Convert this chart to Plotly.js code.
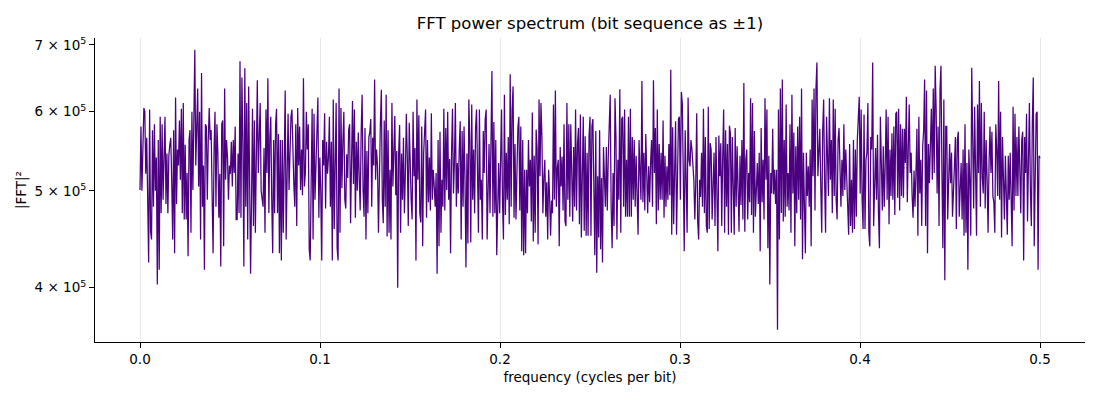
<!DOCTYPE html>
<html>
<head>
<meta charset="utf-8">
<script src="https://cdn.plot.ly/plotly-3.0.1.min.js"></script>
<style>
  html, body { margin: 0; padding: 0; background: #fff; }
  #plotly-fft { width: 1100px; height: 400px; }
</style>
</head>
<body>
<div id="plotly-fft"></div>
<script type="text/javascript">

    /* * Data - |FFT|^2, in units of 1e3 * */
    var power_k = [
        // 0.000 - 0.053
        501, 580, 500, 560, 605, 600, 520, 565, 475, 424,
        603, 455, 447, 575, 482, 583, 500, 540, 403, 562,
        417, 593, 475, 583, 490, 542, 593, 485, 545, 475,
        542, 556, 565, 510, 447, 575, 433, 620, 485, 550,
        530, 588, 513, 604, 475, 612, 468, 556, 468, 521,
        430, 562, 575, 454, 600, 501, 605, 692, 530, 610,
        633, 505, 600, 447, 656, 482, 530, 417, 583, 580,
        490, 562, 605, 562, 575, 495, 433, 550, 600, 482,
        583, 545, 470, 520, 420, 583, 588, 440, 633, 513,
        562, 540, 490, 530, 520, 560, 505,
        // 0.053 - 0.109
        562, 521, 580, 468, 468, 545, 475, 674, 470, 649,
        560, 420, 663, 482, 612, 447, 636, 490, 413, 490,
        604, 461, 588, 454, 520, 645, 521, 565, 612, 500,
        490, 482, 552, 454, 603, 521, 648, 475, 565, 593,
        490, 433, 562, 475, 583, 604, 475, 570, 433, 562,
        426, 562, 454, 585, 630, 447, 550, 597, 501, 570,
        593, 603, 529, 507, 482, 583, 461, 605, 530, 580,
        501, 550, 495, 648, 505, 521, 600, 550, 583, 437,
        426, 562, 604, 447, 597, 490, 538, 583, 620, 470,
        540, 500, 426, 562, 530, 598, 480, 560, 520, 540,
        // 0.109 - 0.164
        593, 482, 560, 426, 617, 458, 558, 612, 438, 426,
        633, 454, 605, 503, 560, 600, 490, 480, 544, 515,
        575, 583, 464, 548, 615, 508, 603, 470, 560, 500,
        572, 515, 478, 572, 624, 501, 471, 578, 447, 548,
        475, 566, 572, 590, 482, 565, 530, 646, 513, 550,
        530, 454, 544, 585, 631, 490, 464, 588, 482, 624,
        450, 575, 454, 525, 447, 612, 505, 560, 594, 495,
        548, 400, 546, 582, 454, 545, 490, 565, 475, 521,
        597, 540, 461, 585, 521, 490, 468, 600, 517, 552,
        426, 617, 513, 595, 475, 465, 580, 440, 545, 570,
        // 0.164 - 0.219
        603, 470, 562, 487, 540, 478, 598, 490, 525, 505,
        482, 521, 413, 562, 440, 573, 454, 513, 482, 604,
        478, 578, 501, 600, 490, 538, 433, 545, 604, 497,
        533, 612, 482, 533, 497, 550, 587, 447, 574, 482,
        580, 513, 419, 545, 443, 617, 562, 444, 610, 490,
        550, 475, 578, 603, 497, 454, 603, 490, 513, 447,
        574, 521, 590, 603, 447, 497, 557, 475, 603, 659,
        471, 586, 475, 562, 431, 513, 533, 475, 557, 603,
        487, 447, 624, 473, 546, 490, 566, 463, 654, 482,
        603, 636, 470, 557, 468, 550, 578, 593, 478, 580,
        435, 562, 431, 525,
        // 0.219 - 0.275
        433, 525, 475, 562, 505, 537, 466, 599, 445, 542,
        454, 576, 550, 442, 617, 517, 612, 566, 475, 516,
        537, 471, 510, 447, 525, 492, 451, 489, 475, 610,
        490, 630, 482, 527, 537, 440, 553, 505, 541, 478,
        583, 466, 461, 612, 490, 583, 471, 583, 494, 466,
        553, 482, 603, 478, 557, 578, 463, 596, 449, 546,
        593, 456, 567, 451, 546, 451, 567, 593, 451, 580,
        590, 505, 431, 574, 414, 517, 449, 575, 437, 515,
        424, 553, 513, 482, 553, 478, 541, 603, 624, 482,
        438, 521, 461, 619, 566, 447, 537, 490, 632, 454,
        590, 593, 482, 603, 471, 537, 471,
        // 0.275 - 0.330
        593, 471, 604, 471, 566, 490, 562, 482, 542, 471,
        452, 562, 513, 490, 644, 487, 546, 478, 570, 505,
        475, 529, 487, 533, 562, 482, 645, 521, 578, 463,
        603, 478, 557, 490, 546, 490, 588, 470, 542, 482,
        529, 490, 557, 495, 661, 452, 579, 463, 550, 587,
        452, 533, 590, 593, 490, 628, 612, 521, 435, 575,
        492, 454, 620, 537, 529, 562, 550, 527, 513, 468,
        510, 598, 466, 447, 513, 493, 546, 482, 604, 475,
        566, 461, 454, 607, 458, 558, 550, 468, 513, 546,
        461, 566, 497, 435, 568, 517, 558, 461, 541, 603,
        454, 575, 482, 557, 452, 581,
        // 0.330 - 0.385
        571, 454, 566, 480, 452, 578, 482, 554, 490, 455,
        542, 484, 562, 468, 641, 455, 537, 550, 468, 521,
        487, 619, 473, 612, 454, 574, 471, 521, 533, 485,
        546, 435, 578, 487, 537, 468, 619, 513, 603, 438,
        542, 403, 521, 497, 577, 496, 525, 485, 525, 363,
        603, 447, 633, 475, 646, 466, 562, 471, 610, 482,
        521, 478, 583, 454, 624, 497, 572, 440, 554, 475,
        580, 490, 593, 468, 633, 427, 546, 484, 433, 546,
        494, 529, 482, 550, 440, 617, 517, 633, 478, 633,
        672, 517, 554, 577, 506, 454, 575, 617, 510, 454,
        593, 542, 494, 619, 513, 562, 475,
        // 0.385 - 0.441
        617, 494, 604, 490, 468, 562, 578, 517, 482, 537,
        494, 583, 501, 550, 509, 482, 452, 557, 461, 513,
        454, 562, 458, 550, 471, 562, 583, 621, 497, 603,
        490, 458, 596, 458, 537, 546, 612, 454, 440, 566,
        550, 672, 461, 523, 552, 490, 569, 475, 438, 593,
        524, 478, 554, 482, 529, 603, 490, 593, 463, 550,
        494, 571, 490, 580, 473, 597, 600, 492, 604, 478,
        583, 494, 577, 492, 577, 533, 621, 487, 550, 610,
        521, 546, 494, 470, 524, 482, 521, 577, 451, 593,
        497, 537, 461, 554, 575, 646, 461, 630, 433, 557,
        509, 562, 604, 513, 633, 521, 667,
        // 0.441 - 0.500
        603, 497, 580, 461, 631, 667, 521, 438, 617, 407,
        580, 580, 468, 525, 557, 509, 546, 471, 513, 529,
        566, 458, 562, 573, 471, 505, 533, 468, 550, 451,
        583, 454, 533, 417, 550, 513, 451, 664, 554, 480,
        607, 542, 451, 610, 521, 644, 482, 612, 515, 497,
        600, 480, 562, 513, 454, 533, 580, 521, 573, 494,
        487, 454, 583, 550, 494, 644, 490, 600, 449, 566,
        490, 468, 542, 501, 452, 542, 490, 546, 494, 440,
        607, 478, 597, 494, 566, 494, 580, 501, 475, 562,
        573, 426, 566, 521, 597, 466, 554, 612, 501, 461,
        583, 649, 440, 521, 597, 600, 417, 542, 539
    ];
    var freq_max = 0.5;                                   // Nyquist, cycles per bit
    var x_tick_vals = [0.0, 0.1, 0.2, 0.3, 0.4, 0.5];
    var y_tick_vals = [4e5, 5e5, 6e5, 7e5];
    var y_tick_text = ['4 \u00d7 10<sup>5</sup>', '5 \u00d7 10<sup>5</sup>',
                       '6 \u00d7 10<sup>5</sup>', '7 \u00d7 10<sup>5</sup>'];

    /* * Container * */
    var fft_plotly_container = document.getElementById('plotly-fft');

    /* * Plotly Chart - FFT power spectrum * */
    function fft_load_plotly(values_k) {

        var data_x = Array();
        var data_y = Array();
        var n = values_k.length;

        for (var i = 0; i < n; i++) {
            data_x.push(freq_max * i / (n - 1));
            data_y.push(values_k[i] * 1000);
        }

        var data = [{
            x: data_x,
            y: data_y,
            type: 'scatter',
            mode: 'lines',
            line: { color: '#4b0082', width: 1.25 },
            hoverinfo: 'x+y'
        }];

        var axis_font = { family: 'DejaVu Sans', size: 13.5, color: '#000' };

        var layout = {
            width: 1100,
            height: 400,
            margin: { l: 95, r: 15, t: 38, b: 58 },
            paper_bgcolor: '#fff',
            plot_bgcolor: '#fff',
            showlegend: false,
            font: axis_font,
            title: {
                text: 'FFT power spectrum (bit sequence as \u00b11)',
                font: { family: 'DejaVu Sans', size: 16.5, color: '#000' },
                x: 0.5 * (95 + 1085) / 1100,
                xanchor: 'center',
                y: 1 - 23 / 400,
                yanchor: 'middle'
            },
            xaxis: {
                range: [-0.025, 0.525],
                tickvals: x_tick_vals,
                tickformat: '.1f',
                ticks: 'outside',
                ticklen: 5,
                tickwidth: 1,
                tickcolor: '#000',
                showline: true,
                linecolor: '#000',
                linewidth: 1,
                showgrid: true,
                gridcolor: '#e8e8e8',
                gridwidth: 1,
                zeroline: false,
                tickfont: axis_font,
                title: { text: 'frequency (cycles per bit)', font: axis_font, standoff: 6 }
            },
            yaxis: {
                type: 'log',
                range: [Math.log10(3.53e5), Math.log10(7.11e5)],
                tickvals: y_tick_vals,
                ticktext: y_tick_text,
                ticks: 'outside',
                ticklen: 5,
                tickwidth: 1,
                tickcolor: '#000',
                showline: true,
                linecolor: '#000',
                linewidth: 1,
                showgrid: false,
                zeroline: false,
                tickfont: axis_font,
                title: { text: '|FFT|\u00b2', font: axis_font, standoff: 4 }
            }
        };

        Plotly.newPlot(fft_plotly_container, data, layout, { displayModeBar: false, staticPlot: true });

    }

    /* * Init Chart * */
    fft_load_plotly(power_k);

</script>
</body>
</html>
